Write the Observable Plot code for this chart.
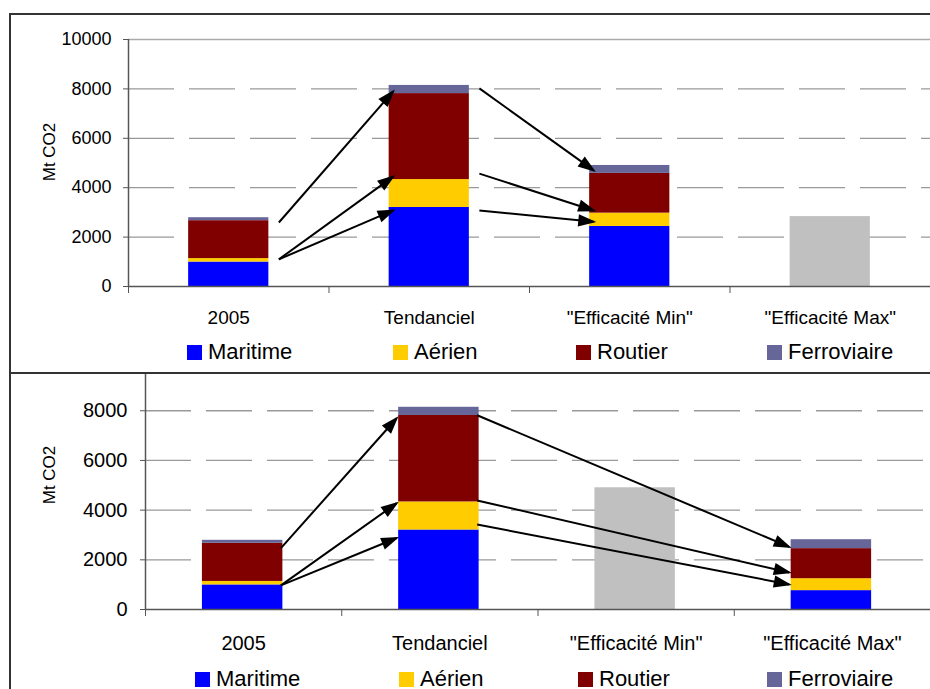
<!DOCTYPE html>
<html><head><meta charset="utf-8">
<script src="https://cdn.jsdelivr.net/npm/d3@7"></script>
<script src="https://cdn.jsdelivr.net/npm/@observablehq/plot@0.6"></script>
<style>
body{margin:0;background:#fff;font-family:"Liberation Sans",Arial,sans-serif;}
#page{position:relative;width:930px;height:689px;overflow:hidden;background:#fff;}
#page svg{position:absolute;left:0;background:transparent !important;}
.line{position:absolute;background:#333;z-index:3;}
.sw{position:absolute;width:15px;height:15px;}
.lt{position:absolute;font-size:22px;line-height:20px;height:20px;color:#000;white-space:nowrap;}
</style></head><body><div id="page"></div>
<script>
// ---- data (Mt CO2) ----
const categories = ["2005", "Tendanciel", "\"Efficacité Min\"", "\"Efficacité Max\""];
const series = ["Maritime", "Aérien", "Routier", "Ferroviaire"];
const seriesColors = ["#0000ff", "#ffcc00", "#800000", "#666699"];
const maritime = [990, 3200, 2430, 760];
const aerien = [140, 1130, 540, 480];
const routier = [1535, 3480, 1610, 1210];
const ferroviaire = [120, 330, 320, 360];
const greyColor = "#c0c0c0";
// top panel: "Efficacité Max" shown as a grey total; bottom panel: "Efficacité Min"
const topGrey = {category: 3, value: 2830};
const bottomGrey = {category: 2, value: 4900};
const yTicksTop = [0, 2000, 4000, 6000, 8000, 10000];
const yTicksBottom = [0, 2000, 4000, 6000, 8000];
const yLabel = "Mt CO2";
// arrows: [from category, from value, to category, to value]
const topArrows = [[0, 2590, 1, 7900], [0, 1100, 1, 4450], [0, 1100, 1, 3080], [1, 8020, 2, 4700], [1, 4570, 2, 3080], [1, 3080, 2, 2620]];
const bottomArrows = [[0, 2470, 1, 7700], [0, 970, 1, 4280], [0, 970, 1, 2880], [1, 7820, 3, 2520], [1, 4390, 3, 1490], [1, 3420, 3, 1010]];

const seriesValues = [maritime, aerien, routier, ferroviaire];
const page = document.getElementById("page");

function panel(cfg) {
  const rows = [];
  categories.forEach((c, i) => {
    if (i === cfg.grey.category) { rows.push({i, y1: 0, y2: cfg.grey.value, fill: greyColor}); return; }
    let acc = 0;
    seriesValues.forEach((vals, k) => { rows.push({i, y1: acc, y2: acc + vals[i], fill: seriesColors[k]}); acc += vals[i]; });
  });
  const links = cfg.arrows.map(([a, va, b, vb]) => ({x1: a + cfg.startDx, y1: va, x2: b + cfg.endDx, y2: vb}));
  const svg = Plot.plot({
    width: 930, height: cfg.height,
    marginLeft: cfg.marginLeft, marginRight: 0, marginTop: cfg.marginTop, marginBottom: cfg.marginBottom,
    style: {fontFamily: "'Liberation Sans', Arial, sans-serif", color: "#000", background: "transparent"},
    x: {domain: [0, 4], axis: null},
    y: {domain: [0, cfg.yMax], axis: null},
    color: {type: "identity"},
    marks: [
      Plot.gridY(cfg.yTicks.filter(t => t > 0 && t < 10000), {stroke: "#999", strokeOpacity: 1, strokeWidth: 1.3, strokeDasharray: "46,15"}),
      cfg.topRule ? Plot.ruleY([10000], {stroke: "#aaa", strokeWidth: 1.5}) : null,
      Plot.rect(rows, {x1: d => d.i + cfg.barL, x2: d => d.i + cfg.barR, y1: "y1", y2: "y2", fill: "fill"}),
      Plot.ruleX([0], {stroke: "#555", strokeWidth: 1.5}),
      Plot.ruleY([0], {stroke: "#555", strokeWidth: 1.5}),
      Plot.axisY({ticks: cfg.yTicks, tickSize: 5, tickPadding: cfg.tickPad, fontSize: cfg.tickFont, stroke: "#555", fill: "#000", label: null, tickFormat: d => String(d)}),
      Plot.axisX({ticks: [0, 1, 2, 3, 4], tickSize: 7, tickFormat: () => "", stroke: "#555", label: null}),
      Plot.axisX({ticks: [0.5, 1.5, 2.5, 3.5], tickSize: 0, tickPadding: cfg.catPad, fontSize: cfg.catFont, fill: "#000", tickFormat: d => categories[Math.floor(d)], label: null}),
      Plot.link(links, {x1: "x1", y1: "y1", x2: "x2", y2: "y2", stroke: "#000", strokeWidth: 2, markerEnd: "arrow"})
    ]
  });
  svg.querySelectorAll("marker").forEach(m => {
    m.setAttribute("overflow", "visible");
    m.setAttribute("viewBox", "-5 -5 10 10");
    m.setAttribute("markerUnits", "userSpaceOnUse");
    m.setAttribute("markerWidth", 22);
    m.setAttribute("markerHeight", 22);
    m.setAttribute("fill", "#000");
    m.setAttribute("stroke", "none");
    const p = m.querySelector("path");
    if (p) p.setAttribute("d", "M-7,-2.8L1.2,0L-7,2.8Z");
  });
  // rotated y-axis title, placed in the margin
  const ns = "http://www.w3.org/2000/svg";
  const t = document.createElementNS(ns, "text");
  t.setAttribute("transform", `translate(49,${cfg.labelY}) rotate(-90)`);
  t.setAttribute("text-anchor", "middle");
  t.setAttribute("dy", "0.35em");
  t.setAttribute("font-size", "17");
  t.setAttribute("fill", "#000");
  t.textContent = yLabel;
  svg.appendChild(t);
  svg.style.top = cfg.top + "px";
  page.appendChild(svg);
  // legend
  series.forEach((s, k) => {
    const sw = document.createElement("div");
    sw.className = "sw";
    sw.style.left = cfg.legendX[k] + "px";
    sw.style.top = cfg.legendY + "px";
    sw.style.background = seriesColors[k];
    page.appendChild(sw);
    const lt = document.createElement("div");
    lt.className = "lt";
    lt.textContent = s;
    lt.style.left = (cfg.legendX[k] + 21) + "px";
    lt.style.top = (cfg.legendY - 3.5) + "px";
    page.appendChild(lt);
  });
}

panel({top: 0, height: 335, marginTop: 39, marginBottom: 49, marginLeft: 128, yMax: 10000, yTicks: yTicksTop,
  grey: topGrey, arrows: topArrows, startDx: 0.75, endDx: 0.32, barL: 0.3, barR: 0.7, topRule: true,
  tickPad: 12, tickFont: 18, catPad: 24, catFont: 19, labelY: 152, legendX: [187, 393, 576, 767], legendY: 345});
panel({top: 373, height: 290, marginTop: 0, marginBottom: 54, marginLeft: 145, yMax: 9500, yTicks: yTicksBottom,
  grey: bottomGrey, arrows: bottomArrows, startDx: 0.69, endDx: 0.28, barL: 0.29, barR: 0.7, topRule: false,
  tickPad: 13, tickFont: 20, catPad: 26, catFont: 20, labelY: 102, legendX: [195, 399, 578, 767], legendY: 672});

// panel borders
function line(l, t, w, h) { const d = document.createElement("div"); d.className = "line"; Object.assign(d.style, {left: l + "px", top: t + "px", width: w + "px", height: h + "px"}); page.appendChild(d); }
line(9, 13, 921, 1.5);
line(9, 13, 1.5, 676);
line(9, 372, 921, 1.5);
</script></body></html>
